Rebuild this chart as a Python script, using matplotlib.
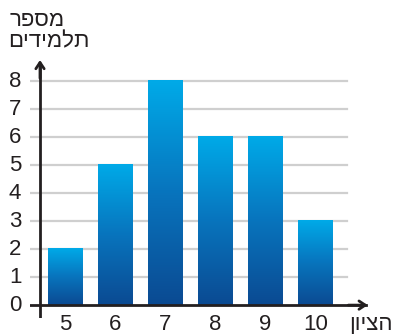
import numpy as np
import matplotlib.pyplot as plt
from matplotlib.colors import LinearSegmentedColormap

plt.rcParams['font.family'] = ['Liberation Sans', 'DejaVu Sans']

# grade -> number of students
grades = [5, 6, 7, 8, 9, 10]
students = [2, 5, 8, 6, 6, 3]
y_ticks = [0, 1, 2, 3, 4, 5, 6, 7, 8]

y_title = ["מספר", "תלמידים"]
x_title = "הציון"


def rtl(s):
    # matplotlib has no bidi support, so flip Hebrew strings for display
    return s[::-1]


bar_cmap = LinearSegmentedColormap.from_list(
    "bars", ["#0b4a92", "#0874bd", "#00aae8"])

fig = plt.figure(figsize=(3.93, 3.34), dpi=100)
ax = fig.add_axes([30 / 393, 16 / 334, 342 / 393, 263 / 334])

x_lo, x_hi = 4.29, 11.13
y_lo, y_hi = -0.46, 8.93
ink = "#231f20"
fs = 16

# gridlines
for v in y_ticks[1:]:
    ax.plot([x_lo, 10.63], [v, v], color="#cfcfcf", lw=1.6, zorder=1)

# gradient bars, each one shaded over its own height
grad = np.linspace(0, 1, 256).reshape(-1, 1)
w = 0.35
for g, n in zip(grades, students):
    ax.imshow(grad, extent=[g - w, g + w, 0, n], origin="lower",
              cmap=bar_cmap, aspect="auto", zorder=2)

# axes with arrow heads
ax.plot([x_lo, 11.0], [0, 0], color=ink, lw=2, zorder=3)
ax.annotate("", xy=(11.1, 0), xytext=(10.6, 0),
            arrowprops=dict(arrowstyle="->,head_length=0.45,head_width=0.3",
                            color=ink, lw=2), zorder=3)
ax.plot([4.49, 4.49], [y_lo, 8.6], color=ink, lw=2, zorder=3)
ax.annotate("", xy=(4.49, 8.85), xytext=(4.49, 8.0),
            arrowprops=dict(arrowstyle="->,head_length=0.45,head_width=0.3",
                            color=ink, lw=2), zorder=3)

ax.set_xlim(x_lo, x_hi)
ax.set_ylim(y_lo, y_hi)
ax.axis("off")

# tick labels
for v in y_ticks:
    ax.text(3.99, v, str(v), ha="center", va="center", fontsize=fs,
            color=ink)
for g in grades:
    ax.text(g, -0.68, str(g), ha="center", va="center", fontsize=fs,
            color=ink)

fig.text(37 / 393, 1 - 21 / 334, rtl(y_title[0]), ha="center", va="center",
         fontsize=fs, color=ink)
fig.text(49 / 393, 1 - 42 / 334, rtl(y_title[1]), ha="center", va="center",
         fontsize=fs, color=ink)
fig.text(393 / 393, 1 - 325 / 334, rtl(x_title), ha="right", va="center",
         fontsize=fs, color=ink)

fig.savefig("out.png", dpi=100)
